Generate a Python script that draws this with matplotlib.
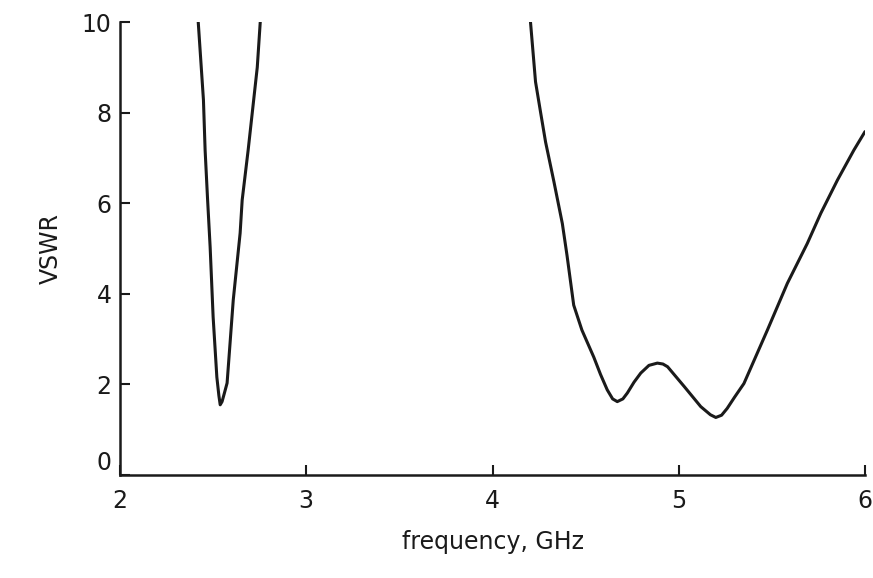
import matplotlib
matplotlib.use("Agg")
import matplotlib.pyplot as plt

# Band 1 (low-frequency resonance)
freq1 = [2.42, 2.448, 2.457, 2.47, 2.484, 2.50, 2.52, 2.531, 2.538, 2.548, 2.56, 2.575, 2.608,
         2.645, 2.656, 2.688, 2.737, 2.753]
vswr1 = [10.0, 8.28, 7.17, 6.1, 5.03, 3.49, 2.16, 1.75, 1.55, 1.62, 1.8, 2.03, 3.86,
         5.34, 6.07, 7.17, 9.0, 10.0]

# Band 2 (high-frequency, double resonance)
freq2 = [4.204, 4.231, 4.258, 4.285, 4.33, 4.375, 4.40, 4.436, 4.48, 4.544, 4.58, 4.616, 4.645,
         4.67, 4.70, 4.724, 4.76, 4.796, 4.84, 4.885, 4.915, 4.94, 5.03, 5.118, 5.17, 5.199,
         5.23, 5.26, 5.30, 5.35, 5.476, 5.583, 5.69, 5.763, 5.852, 5.94, 6.0]
vswr2 = [10.0, 8.68, 8.01, 7.35, 6.47, 5.55, 4.85, 3.75, 3.2, 2.60, 2.22, 1.88, 1.68,
         1.62, 1.68, 1.81, 2.05, 2.25, 2.42, 2.47, 2.45, 2.39, 1.95, 1.51, 1.33, 1.27,
         1.32, 1.47, 1.72, 2.02, 3.2, 4.23, 5.11, 5.78, 6.51, 7.17, 7.58]

xticks = [2, 3, 4, 5, 6]
yticks = [0, 2, 4, 6, 8, 10]

fig = plt.figure(figsize=(8.73, 5.78), dpi=100)
ax = fig.add_axes([120/873, 1-475/578, (865-120)/873, (475-22)/578])

ax.plot(freq1, vswr1, color="#1a1a1a", lw=2.2, solid_joinstyle="round", solid_capstyle="round")
ax.plot(freq2, vswr2, color="#1a1a1a", lw=2.2, solid_joinstyle="round", solid_capstyle="round")

ax.set_xlim(2, 6)
ax.set_ylim(0, 10)
ax.set_xticks(xticks)
ax.set_yticks(yticks)
ax.set_xticklabels([str(v) for v in xticks])
ax.set_yticklabels([str(v) for v in yticks])

for s in ["top", "right"]:
    ax.spines[s].set_visible(False)
for s in ["left", "bottom"]:
    ax.spines[s].set_linewidth(1.8)
    ax.spines[s].set_color("#1a1a1a")

ax.tick_params(direction="in", length=7, width=1.5, labelsize=17, colors="#1a1a1a", pad=6)
ax.tick_params(axis="x", pad=10)
ax.yaxis.get_major_ticks()[0].label1.set_va("bottom")

ax.set_xlabel("frequency, GHz", fontsize=17, color="#1a1a1a", labelpad=12)
ax.set_ylabel("VSWR", fontsize=17, color="#1a1a1a", labelpad=14)

fig.savefig("out.png", dpi=100)
